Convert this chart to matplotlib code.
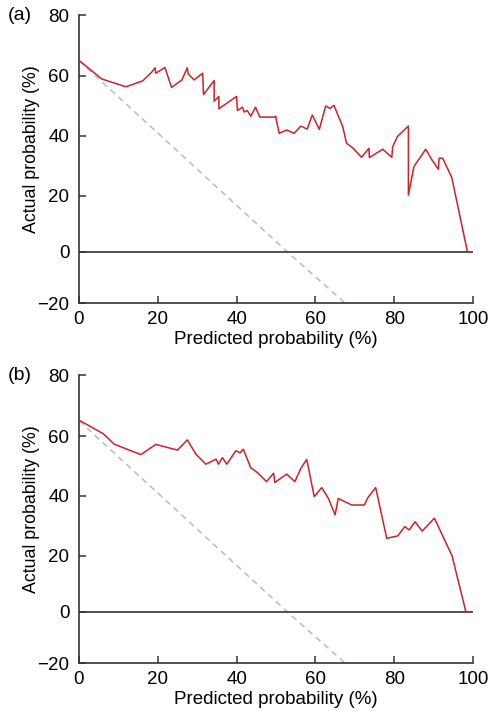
import numpy as np
import matplotlib.pyplot as plt

plt.rcParams['font.family'] = ['Liberation Sans', 'DejaVu Sans']

# panel (a): predicted vs actual probability (%)
pred_a = [0.3, 5.8, 11.9, 16.2, 18.7, 19.3, 19.5, 21.8, 23.5, 26.1, 27.5, 27.7, 29.2,
          31.4, 31.6, 34.3, 34.3, 35.5, 35.5, 40.0, 40.2, 41.5, 41.9, 42.7, 43.6, 44.8,
          45.9, 49.5, 49.9, 50.8, 52.7, 54.6, 56.3, 57.9, 59.2, 61.0, 62.6, 63.7, 64.7,
          66.9, 67.9, 69.6, 71.7, 73.6, 73.7, 77.1, 79.4, 79.6, 80.8, 83.6, 83.6, 85.0,
          88.0, 89.5, 91.2, 91.4, 92.3, 94.6, 98.6]
act_a = [64.8, 59.0, 56.4, 58.4, 61.6, 62.7, 60.9, 62.8, 56.2, 58.7, 62.7, 60.7, 58.7,
         60.9, 53.8, 58.5, 51.6, 53.2, 49.1, 53.2, 48.5, 49.6, 48.0, 48.5, 46.6, 49.6,
         46.3, 46.3, 46.6, 40.9, 42.0, 40.9, 43.3, 42.3, 47.0, 42.2, 50.0, 49.2, 50.2,
         43.3, 37.6, 35.9, 32.9, 35.9, 32.8, 35.6, 32.9, 36.4, 39.8, 43.3, 20.3, 29.8,
         35.6, 32.2, 28.9, 32.6, 32.6, 26.2, 0.0]

# panel (b)
pred_b = [0.3, 6.2, 8.9, 15.7, 19.5, 25.0, 27.5, 29.7, 32.2, 34.8, 35.4, 36.4, 37.5,
          39.8, 40.9, 41.7, 43.6, 45.3, 47.6, 49.4, 49.7, 52.7, 54.8, 56.3, 57.8, 59.7,
          61.6, 63.3, 65.0, 65.8, 69.2, 72.4, 73.4, 75.3, 78.1, 80.9, 82.7, 83.8, 85.3,
          87.1, 90.2, 92.6, 94.7, 98.2]
act_b = [65.0, 60.7, 57.3, 53.8, 57.2, 55.3, 58.7, 53.9, 50.6, 52.3, 50.6, 52.8, 50.6,
         55.1, 54.4, 55.6, 49.4, 47.8, 44.8, 47.6, 44.5, 47.3, 44.8, 49.2, 52.2, 39.8,
         42.8, 39.2, 33.7, 39.2, 37.0, 37.0, 39.6, 42.8, 25.9, 26.7, 29.8, 28.7, 31.4,
         28.3, 32.6, 25.9, 20.0, 0.0]

# grey dashed reference line
ref_x = [0, 52.9, 67.5]
ref_y = [65, 0, -20]

x_ticks = [0, 20, 40, 60, 80, 100]
y_ticks = [-20, 0, 20, 40, 60, 80]

# the y axis in the original is not evenly spaced -> piecewise scale
y_tick_pos = [0, 51, 107, 167, 227, 288]


def fwd(v):
    return np.interp(v, y_ticks, y_tick_pos)


def inv(p):
    return np.interp(p, y_tick_pos, y_ticks)


red = '#cc2229'
dark = '#333333'

fig = plt.figure(figsize=(4.9, 7.11), dpi=100)
ax_a = fig.add_axes([79/490, 1 - 303/711, 394/490, 288/711])
ax_b = fig.add_axes([79/490, 1 - 663/711, 394/490, 288/711])

for ax, px, py, lab in [(ax_a, pred_a, act_a, '(a)'), (ax_b, pred_b, act_b, '(b)')]:
    ax.set_yscale('function', functions=(fwd, inv))
    ax.plot(ref_x, ref_y, color='#bbbbbb', lw=1.1, ls=(0, (4, 3)), zorder=2)
    ax.axhline(0, color=dark, lw=1.2, zorder=3)
    ax.plot(px, py, color=red, lw=1.1, zorder=4)
    ax.set_xlim(0, 100)
    ax.set_ylim(-20, 80)
    ax.set_xticks(x_ticks)
    ax.set_yticks(y_ticks)
    ax.set_yticklabels(['\u221220', '0', '20', '40', '60', '80'])
    ax.spines['top'].set_visible(False)
    ax.spines['right'].set_visible(False)
    for s in ['left', 'bottom']:
        ax.spines[s].set_color(dark)
        ax.spines[s].set_linewidth(1.2)
    ax.tick_params(direction='in', length=5, width=1.1, color=dark,
                   labelsize=13.5)
    ax.tick_params(axis='y', pad=7)
    ax.tick_params(axis='x', pad=6)
    ax.set_xlabel('Predicted probability (%)', fontsize=13.5, labelpad=2)
    ax.set_ylabel('Actual probability (%)', fontsize=12.8)
    ax.yaxis.set_label_coords(-0.10, 0.535)
    ax.text(-0.18, 1.0, lab, transform=ax.transAxes, fontsize=14,
            ha='left', va='center')

fig.savefig('out.png', dpi=100)
